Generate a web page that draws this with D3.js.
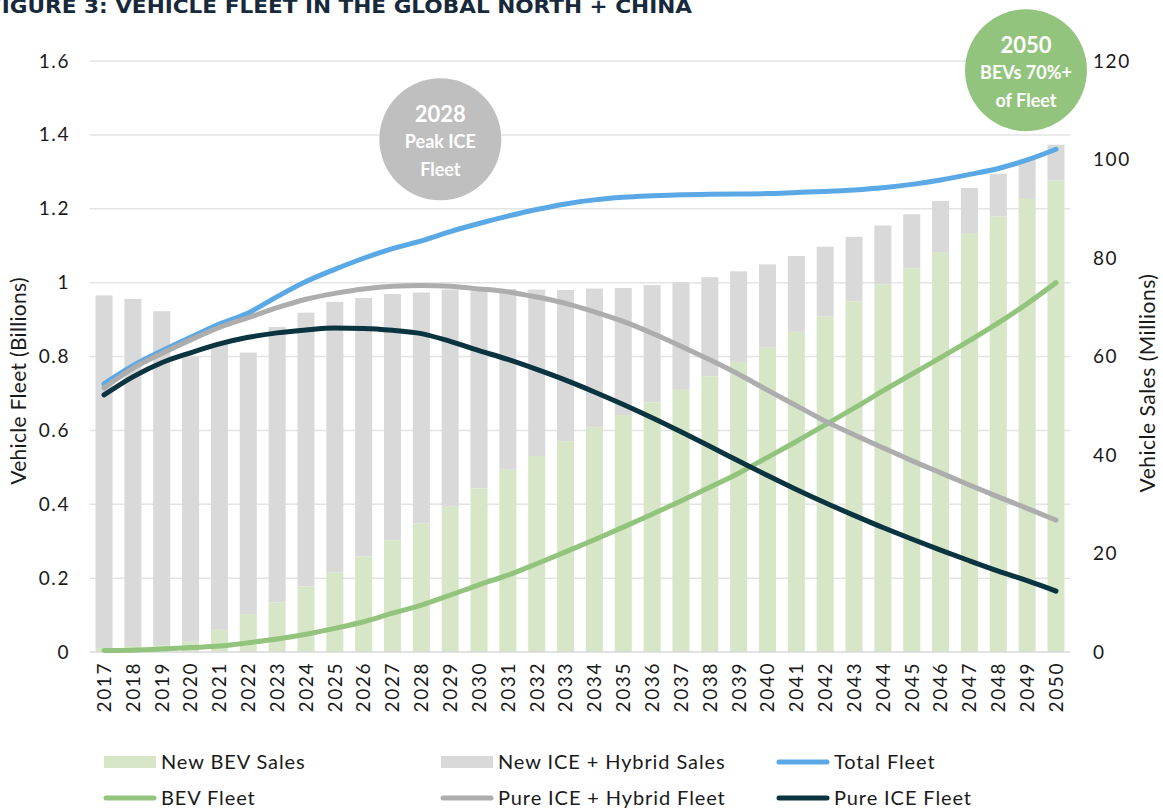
<!DOCTYPE html>
<html><head><meta charset="utf-8">
<script src="https://cdn.jsdelivr.net/npm/d3@7"></script>
<style>
html,body{margin:0;padding:0;background:#fff;}
svg{display:block;font-family:Lato,"Open Sans",sans-serif;}
</style></head>
<body>
<svg id="chart" width="1163" height="809"></svg>
<script>
const years = ["2017","2018","2019","2020","2021","2022","2023","2024","2025","2026","2027","2028","2029","2030","2031","2032","2033","2034","2035","2036","2037","2038","2039","2040","2041","2042","2043","2044","2045","2046","2047","2048","2049","2050"];
// Vehicle sales, millions (right axis)
const bevSales = [0.8,1.2,1.4,2.1,4.5,7.7,10.1,13.3,16.1,19.4,22.7,26.1,29.5,33.2,37.0,39.8,42.8,45.6,48.1,50.7,53.4,56.0,58.9,61.8,65.0,68.1,71.2,74.6,77.9,81.2,84.9,88.4,92.0,95.7];
const totalSales = [72.4,71.7,69.2,60.0,62.5,60.8,66.0,68.9,71.1,71.9,72.7,73.0,73.6,73.6,73.7,73.6,73.5,73.8,73.9,74.5,75.1,76.1,77.3,78.7,80.4,82.3,84.3,86.6,88.9,91.6,94.2,97.1,100.0,103.0];
// Fleet, billions (left axis)
const totalFleet = [0.726,0.775,0.815,0.852,0.888,0.918,0.962,1.003,1.036,1.066,1.092,1.113,1.138,1.160,1.180,1.198,1.213,1.224,1.231,1.235,1.238,1.239,1.240,1.241,1.244,1.247,1.251,1.257,1.266,1.278,1.293,1.309,1.332,1.361];
const bevFleet = [0.004,0.005,0.008,0.012,0.016,0.025,0.035,0.048,0.064,0.082,0.105,0.127,0.154,0.182,0.208,0.239,0.271,0.304,0.338,0.373,0.409,0.446,0.484,0.527,0.570,0.615,0.660,0.707,0.752,0.797,0.843,0.891,0.943,1.0];
const iceHybridFleet = [0.715,0.768,0.808,0.845,0.879,0.905,0.932,0.955,0.971,0.983,0.990,0.992,0.990,0.983,0.975,0.961,0.944,0.921,0.895,0.863,0.828,0.791,0.752,0.709,0.667,0.625,0.588,0.553,0.518,0.485,0.452,0.420,0.389,0.357];
const pureIceFleet = [0.696,0.745,0.783,0.810,0.834,0.852,0.864,0.872,0.877,0.876,0.871,0.862,0.841,0.816,0.792,0.765,0.736,0.704,0.670,0.634,0.596,0.557,0.517,0.478,0.440,0.404,0.370,0.337,0.306,0.276,0.247,0.219,0.193,0.165];
const leftTicks = [0,0.2,0.4,0.6,0.8,1,1.2,1.4,1.6];
const rightTicks = [0,20,40,60,80,100,120];
const title = "FIGURE 3: VEHICLE FLEET IN THE GLOBAL NORTH + CHINA";
const callouts = [
  {year:"2028", level:1.388, lines:["2028","Peak ICE","Fleet"], color:"#BFBFBF"},
  {year:"2050", level:1.575, lines:["2050","BEVs 70%+","of Fleet"], color:"#93C47D"}
];

const C = {bevBar:"#D6E6C6", iceBar:"#D9D9D9", total:"#5AA9E6", bev:"#93C47D", ice:"#ADADAD", pure:"#0B3441", grid:"#E4E4E4", text:"#1a1a1a"};

const svg = d3.select("#chart");
const x = d3.scaleBand().domain(years).range([89.6,1070.4]).paddingInner(0.41).paddingOuter(0.205);
const yL = d3.scaleLinear().domain([0,1.6]).range([652,61]);
const yR = d3.scaleLinear().domain([0,120]).range([652,61]);
const cx = d => x(d) + x.bandwidth()/2;

// title
svg.append("text").attr("x",-13).attr("y",13)
  .attr("font-family","'DejaVu Sans',sans-serif").attr("font-weight","bold").attr("font-size",20)
  .attr("fill","#17293a").attr("textLength",705).attr("lengthAdjust","spacingAndGlyphs").text(title);

// gridlines
svg.append("g").selectAll("line").data(leftTicks.slice(1)).join("line")
  .attr("x1",89.6).attr("x2",1070.4).attr("y1",d=>yL(d)).attr("y2",d=>yL(d))
  .attr("stroke",C.grid).attr("stroke-width",1.5);

// bars
const bars = svg.append("g");
bars.selectAll("rect.ice").data(years).join("rect").attr("class","ice")
  .attr("x",d=>x(d)).attr("width",x.bandwidth())
  .attr("y",(d,i)=>yR(totalSales[i])).attr("height",(d,i)=>yR(bevSales[i])-yR(totalSales[i]))
  .attr("fill",C.iceBar);
bars.selectAll("rect.bev").data(years).join("rect").attr("class","bev")
  .attr("x",d=>x(d)).attr("width",x.bandwidth())
  .attr("y",(d,i)=>yR(bevSales[i])).attr("height",(d,i)=>yR(0)-yR(bevSales[i]))
  .attr("fill",C.bevBar);

// baseline
svg.append("line").attr("x1",89.6).attr("x2",1070.4).attr("y1",yL(0)).attr("y2",yL(0))
  .attr("stroke","#D9D9D9").attr("stroke-width",1.5);

// lines
const line = d3.line().x((d,i)=>cx(years[i])).y(d=>yL(d)).curve(d3.curveMonotoneX);
[[totalFleet,C.total],[bevFleet,C.bev],[iceHybridFleet,C.ice],[pureIceFleet,C.pure]].forEach(([arr,col])=>{
  svg.append("path").datum(arr).attr("d",line).attr("fill","none").attr("stroke",col)
    .attr("stroke-width",5).attr("stroke-linecap","round").attr("stroke-linejoin","round");
});

// axes
const tickStyle = sel => sel.attr("font-size",19).attr("fill",C.text).attr("font-family","Lato,sans-serif").attr("letter-spacing","1.6px");
const axL = svg.append("g").attr("transform","translate(70,0)")
  .call(d3.axisLeft(yL).tickValues(leftTicks).tickFormat(d=>d3.format("")(d)).tickSize(0).tickPadding(0));
axL.select(".domain").remove();
tickStyle(axL.selectAll("text"));

const axR = svg.append("g").attr("transform","translate(1093,0)")
  .call(d3.axisRight(yR).tickValues(rightTicks).tickSize(0).tickPadding(0));
axR.select(".domain").remove();
tickStyle(axR.selectAll("text"));

const axB = svg.append("g").attr("transform","translate(0,662)")
  .call(d3.axisBottom(x).tickSize(0).tickPadding(0));
axB.select(".domain").remove();
tickStyle(axB.selectAll("text"))
  .attr("transform","rotate(-90)").attr("text-anchor","end").attr("x",0).attr("y",0).attr("dy","0.36em");

// axis titles
svg.append("text").attr("transform","translate(26,381) rotate(-90)").attr("text-anchor","middle")
  .attr("font-size",21).attr("letter-spacing","0.3px").attr("fill",C.text).text("Vehicle Fleet (Billions)");
svg.append("text").attr("transform","translate(1155,383) rotate(-90)").attr("text-anchor","middle")
  .attr("font-size",21).attr("letter-spacing","0.5px").attr("fill",C.text).text("Vehicle Sales (Millions)");

// callouts
callouts.forEach(c=>{
  const gx = c.year==="2028" ? cx(c.year)+19 : cx(c.year)-30;
  const g = svg.append("g").attr("transform",`translate(${gx},${yL(c.level)})`);
  g.append("circle").attr("r",61).attr("fill",c.color);
  g.selectAll("text").data(c.lines).join("text")
    .attr("text-anchor","middle").attr("y",(d,i)=>(i-1)*27.5+2.5).attr("dy","0.36em")
    .attr("fill","#fff").attr("font-weight","bold").attr("font-size",(d,i)=>i===0?22:18).text(d=>d);
});

// legend
const legend = [
  {label:"New BEV Sales", type:"rect", color:C.bevBar, col:0, row:0},
  {label:"New ICE + Hybrid Sales", type:"rect", color:C.iceBar, col:1, row:0},
  {label:"Total Fleet", type:"line", color:C.total, col:2, row:0},
  {label:"BEV Fleet", type:"line", color:C.bev, col:0, row:1},
  {label:"Pure ICE + Hybrid Fleet", type:"line", color:C.ice, col:1, row:1},
  {label:"Pure ICE Fleet", type:"line", color:C.pure, col:2, row:1}
];
const colX = [104,441,777], rowY = [762,798];
legend.forEach(l=>{
  const g = svg.append("g").attr("transform",`translate(${colX[l.col]},${rowY[l.row]})`);
  if(l.type==="rect") g.append("rect").attr("x",0).attr("y",-6).attr("width",52).attr("height",12).attr("fill",l.color);
  else g.append("line").attr("x1",2).attr("x2",50).attr("y1",0).attr("y2",0).attr("stroke",l.color).attr("stroke-width",5).attr("stroke-linecap","round");
  g.append("text").attr("x",57).attr("dy","0.36em").attr("font-size",20).attr("letter-spacing","0.9px").attr("fill",C.text).text(l.label);
});
</script>
</body></html>
